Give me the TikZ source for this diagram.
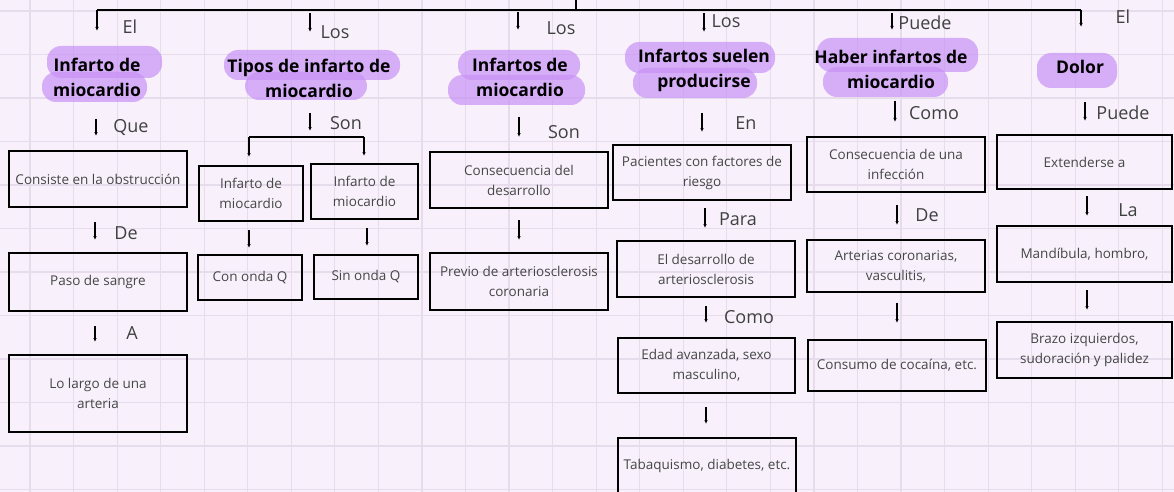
\documentclass[tikz,border=0pt]{standalone}
\usepackage{fontspec}
\setmainfont{Open Sans}
\usetikzlibrary{arrows.meta}
\definecolor{paper}{RGB}{248,241,252}
\definecolor{gridc}{RGB}{230,220,236}
\definecolor{marker}{RGB}{200,145,245}
\definecolor{ink}{RGB}{70,70,70}

\begin{document}
\begin{tikzpicture}[x=1pt,y=-1pt,inner sep=1pt]
    \tikzstyle{box}=[rectangle,draw=black,line width=2.4pt,align=center,text=ink,
        font=\fontsize{13.5}{20}\selectfont]
    \tikzstyle{title}=[align=center,font=\fontsize{17.5}{25}\selectfont\bfseries]
    \tikzstyle{lbl}=[text=black!75,font=\fontsize{18}{20}\selectfont]
    \tikzstyle{arr}=[line width=1.1pt,-{Latex[length=4pt,width=3.5pt]}]
    \tikzstyle{blob}=[fill=marker,opacity=0.7,rounded corners=14pt]

    \useasboundingbox (0,0) rectangle (1174,492);
    \fill[paper] (0,0) rectangle (1174,492);
    \foreach \g in {-1,...,26} {
        \draw[gridc,line width=1.2pt] ({30+43.55*\g},0) -- ({30+43.55*\g},492);
    };
    \foreach \g in {-1,...,11} {
        \draw[gridc,line width=1.2pt] (0,{11+43.5*\g}) -- (1174,{11+43.5*\g});
    };

    \fill[blob] (47,46) rectangle (162,78);
    \fill[blob] (42,72) rectangle (147,102);
    \fill[blob] (224,50) rectangle (400,80);
    \fill[blob] (245,72) rectangle (367,100);
    \fill[blob] (458,50) rectangle (580,80);
    \fill[blob] (448,75) rectangle (585,105);
    \fill[blob] (625,42) rectangle (775,73);
    \fill[blob] (633,68) rectangle (757,98);
    \fill[blob] (817,38) rectangle (978,72);
    \fill[blob] (823,67) rectangle (948,97);
    \fill[blob] (1037,53) rectangle (1117,88);

    \node[title] (t1) at (97,77) {Infarto de\\miocardio};
    \node[title] (t2) at (309,78) {Tipos de infarto de\\miocardio};
    \node[title] (t3) at (520,77) {Infartos de\\miocardio};
    \node[title] (t4) at (704,70) {Infartos suelen\\producirse};
    \node[title] (t5) at (891,69) {Haber infartos de\\miocardio};
    \node[title] (t6) at (1080,67) {Dolor};

    \node[box,minimum width=178pt,minimum height=56pt] (b1a) at (98,179) {Consiste en la obstrucción};
    \node[box,minimum width=178pt,minimum height=58pt] (b1b) at (98,282) {Paso de sangre};
    \node[box,minimum width=178pt,minimum height=77pt] (b1c) at (98,393.5) {Lo largo de una\\arteria};

    \node[box,minimum width=104pt,minimum height=55pt] (b2a) at (251,193.5) {Infarto de\\miocardio};
    \node[box,minimum width=107pt,minimum height=55pt] (b2b) at (364.5,191.5) {Infarto de\\miocardio};
    \node[box,minimum width=104pt,minimum height=45pt] (b2c) at (250,277.5) {Con onda Q};
    \node[box,minimum width=104pt,minimum height=44pt] (b2d) at (366,277) {Sin onda Q};

    \node[box,minimum width=178pt,minimum height=56pt] (b3a) at (519,180) {Consecuencia del\\desarrollo};
    \node[box,minimum width=178pt,minimum height=57pt] (b3b) at (519,281.5) {Previo de arteriosclerosis\\coronaria};

    \node[box,minimum width=178pt,minimum height=55pt] (b4a) at (702,172.5) {Pacientes con factores de\\riesgo};
    \node[box,minimum width=178pt,minimum height=56pt] (b4b) at (706,269) {El desarrollo de\\arteriosclerosis};
    \node[box,minimum width=177pt,minimum height=55pt] (b4c) at (706.5,365.5) {Edad avanzada, sexo\\masculino,};
    \node[box,minimum width=178pt,minimum height=56pt] (b4d) at (707,466) {Tabaquismo, diabetes, etc.};

    \node[box,minimum width=178pt,minimum height=55pt] (b5a) at (896,164.5) {Consecuencia de una\\infección};
    \node[box,minimum width=178pt,minimum height=52pt] (b5b) at (896,266) {Arterias coronarias,\\vasculitis,};
    \node[box,minimum width=178pt,minimum height=51pt] (b5c) at (897,365.5) {Consumo de cocaína, etc.};

    \node[box,minimum width=175pt,minimum height=54pt] (b6a) at (1084.5,162) {Extenderse a};
    \node[box,minimum width=175pt,minimum height=56pt] (b6b) at (1084.5,254) {Mandíbula, hombro,};
    \node[box,minimum width=175pt,minimum height=56pt] (b6c) at (1084.5,350) {Brazo izquierdos,\\sudoración y palidez};

    \coordinate (top) at (576,0);
    \coordinate (topm) at (576,10);
    \coordinate (tl) at (97,10);
    \coordinate (tr) at (1081,10);
    \draw[line width=1.1pt] (top) -- (topm);
    \draw[line width=1.1pt] (tl) -- (tr);

    \coordinate (sl) at (249,137);
    \coordinate (sr) at (364,137);
    \draw[line width=1.1pt] (sl) -- (sr);

    \foreach \n/\x/\ya/\yb in {1/97/10/31, 2/310/13/32, 3/518/12/30, 4/704/13/32,
        5/892/13/30, 6/1081/10/27, 7/96/119/136, 8/95/222/240, 9/95/326/342,
        10/310/113/131, 11/249/137/157, 12/364/137/156, 13/249/230/248,
        14/367/228/246, 15/519/117/137, 16/519/220/240, 17/702/113/132,
        18/705/208/228, 19/706/306/323, 20/706/407/424, 21/895/101/122,
        22/897/205/225, 23/897/303/323, 24/1085/102/121, 25/1087/196/216,
        26/1087/290/310} {
        \coordinate (p\n) at (\x,\ya);
        \coordinate (q\n) at (\x,\yb);
        \draw[arr] (p\n) -- (q\n);
    };

    \foreach \n/\x/\y/\t in {1/130/27/El, 2/335/32/Los, 3/561/28/Los, 4/726/21/Los,
        5/925/23/Puede, 6/1123/17/El, 7/131/128/Que, 8/126/233/De, 9/132/333/A,
        10/346/123/Son, 15/564/132/Son, 17/746/123/En, 18/738/219/Para,
        19/749/317/Como, 21/934/113/Como, 22/927/215/De, 24/1123/113/Puede,
        25/1128/210/La} {
        \node[lbl] (l\n) at (\x,\y) {\t};
    };
\end{tikzpicture}
\end{document}
